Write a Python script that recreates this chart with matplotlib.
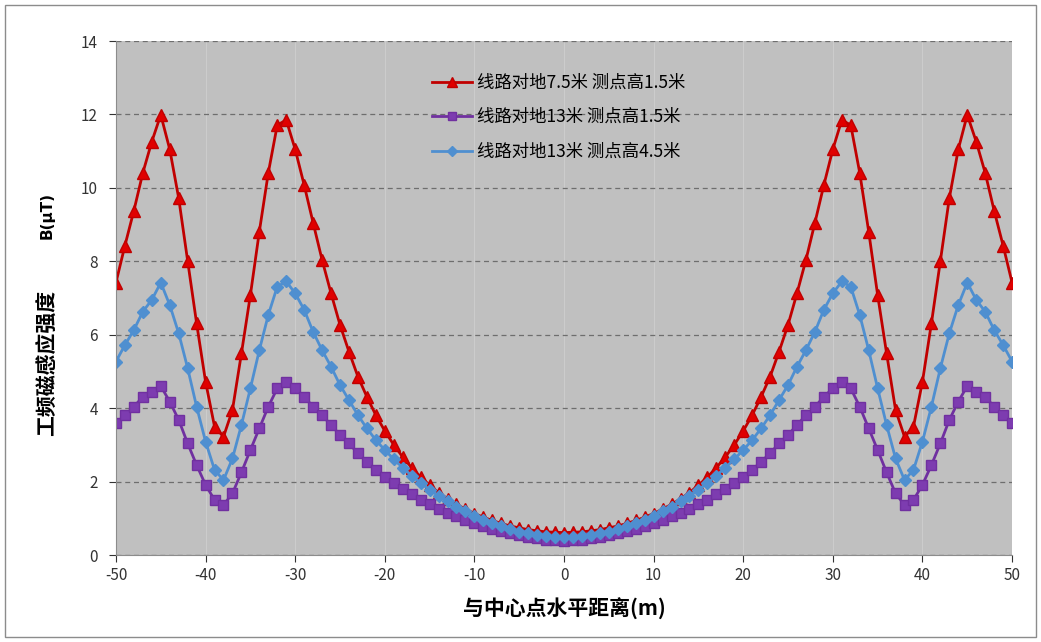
import matplotlib
matplotlib.use("Agg")
import matplotlib.pyplot as plt
from matplotlib.patches import Rectangle

plt.rcParams['font.family'] = ['Noto Sans CJK SC', 'DejaVu Sans']
plt.rcParams['axes.unicode_minus'] = False

# 与中心点水平距离 (m)
dist = list(range(-50, 51))

# 线路对地7.5米 测点高1.5米
b_75_15 = [7.42, 8.43, 9.38, 10.41, 11.26, 11.99, 11.05, 9.72, 8.01, 6.31,
           4.72, 3.50, 3.22, 3.95, 5.49, 7.08, 8.81, 10.41, 11.71, 11.85,
           11.05, 10.08, 9.05, 8.04, 7.13, 6.27, 5.54, 4.86, 4.31, 3.81,
           3.38, 3.00, 2.67, 2.38, 2.12, 1.90, 1.70, 1.53, 1.38, 1.25,
           1.13, 1.03, 0.94, 0.86, 0.79, 0.74, 0.69, 0.66, 0.63, 0.62,
           0.61,
           0.62, 0.63, 0.66, 0.69, 0.74, 0.79, 0.86, 0.94, 1.03, 1.13,
           1.25, 1.38, 1.53, 1.70, 1.90, 2.12, 2.38, 2.67, 3.00, 3.38,
           3.81, 4.31, 4.86, 5.54, 6.27, 7.13, 8.04, 9.05, 10.08, 11.05,
           11.85, 11.71, 10.41, 8.81, 7.08, 5.49, 3.95, 3.22, 3.50, 4.72,
           6.31, 8.01, 9.72, 11.05, 11.99, 11.26, 10.41, 9.38, 8.43, 7.42]

# 线路对地13米 测点高1.5米
b_13_15 = [3.59, 3.81, 4.04, 4.31, 4.45, 4.60, 4.18, 3.68, 3.04, 2.45,
           1.91, 1.50, 1.36, 1.68, 2.25, 2.86, 3.45, 4.04, 4.54, 4.72,
           4.54, 4.31, 4.04, 3.81, 3.54, 3.27, 3.04, 2.77, 2.54, 2.32,
           2.13, 1.96, 1.80, 1.65, 1.51, 1.38, 1.26, 1.15, 1.05, 0.96,
           0.87, 0.79, 0.72, 0.65, 0.59, 0.54, 0.49, 0.45, 0.42, 0.40,
           0.39,
           0.40, 0.42, 0.45, 0.49, 0.54, 0.59, 0.65, 0.72, 0.79, 0.87,
           0.96, 1.05, 1.15, 1.26, 1.38, 1.51, 1.65, 1.80, 1.96, 2.13,
           2.32, 2.54, 2.77, 3.04, 3.27, 3.54, 3.81, 4.04, 4.31, 4.54,
           4.72, 4.54, 4.04, 3.45, 2.86, 2.25, 1.68, 1.36, 1.50, 1.91,
           2.45, 3.04, 3.68, 4.18, 4.60, 4.45, 4.31, 4.04, 3.81, 3.59]

# 线路对地13米 测点高4.5米
b_13_45 = [5.27, 5.72, 6.13, 6.63, 6.95, 7.42, 6.81, 6.04, 5.09, 4.04,
           3.09, 2.32, 2.04, 2.63, 3.54, 4.54, 5.58, 6.54, 7.31, 7.45,
           7.13, 6.68, 6.08, 5.58, 5.13, 4.63, 4.22, 3.81, 3.45, 3.13,
           2.86, 2.61, 2.38, 2.16, 1.96, 1.78, 1.61, 1.46, 1.32, 1.19,
           1.07, 0.96, 0.87, 0.78, 0.71, 0.64, 0.59, 0.54, 0.51, 0.49,
           0.48,
           0.49, 0.51, 0.54, 0.59, 0.64, 0.71, 0.78, 0.87, 0.96, 1.07,
           1.19, 1.32, 1.46, 1.61, 1.78, 1.96, 2.16, 2.38, 2.61, 2.86,
           3.13, 3.45, 3.81, 4.22, 4.63, 5.13, 5.58, 6.08, 6.68, 7.13,
           7.45, 7.31, 6.54, 5.58, 4.54, 3.54, 2.63, 2.04, 2.32, 3.09,
           4.04, 5.09, 6.04, 6.81, 7.42, 6.95, 6.63, 6.13, 5.72, 5.27]

labels = ["线路对地7.5米 测点高1.5米", "线路对地13米 测点高1.5米", "线路对地13米 测点高4.5米"]

fig = plt.figure(figsize=(10.41, 6.42), dpi=100)
ax = fig.add_axes([0.1114, 0.1355, 0.8608, 0.8006])

# 外框
fig.patches.append(Rectangle((0.005, 0.008), 0.99, 0.984, transform=fig.transFigure,
                             fill=False, edgecolor="#8c8c8c", linewidth=1))

ax.set_facecolor("#c0c0c0")
ax.plot(dist, b_75_15, color="#c00000", lw=2, marker="^", ms=8.5,
        mfc="#e00000", mec="#c00000", label=labels[0])
ax.plot(dist, b_13_15, color="#7030a0", lw=2, marker="s", ms=7,
        mfc="#7d3cb0", mec="#7030a0", label=labels[1])
ax.plot(dist, b_13_45, color="#4f8fd0", lw=2, marker="D", ms=6,
        mfc="#4f8fd0", mec="#4f8fd0", label=labels[2])

ax.set_xlim(-50, 50)
ax.set_ylim(0, 14)
ax.set_xticks(range(-50, 51, 10))
ax.set_yticks(range(0, 15, 2))
ax.tick_params(axis="both", labelsize=11, colors="#333333", length=5, direction="out")
ax.tick_params(axis="y", pad=8)

ax.grid(axis="y", color="#6e6e6e", linestyle=(0, (4, 3)), linewidth=0.9)
ax.grid(axis="x", color="#cccccc", linestyle="-", linewidth=0.8)
ax.set_axisbelow(True)

for s in ["top", "right"]:
    ax.spines[s].set_visible(False)
for s in ["left", "bottom"]:
    ax.spines[s].set_color("#8c8c8c")

ax.set_xlabel("与中心点水平距离(m)", fontsize=15, fontweight="bold", labelpad=10)
fig.text(0.045, 0.435, "工频磁感应强度", rotation=90, fontsize=15, fontweight="bold",
         ha="center", va="center")
fig.text(0.045, 0.665, "B(μT)", rotation=90, fontsize=11, fontweight="bold",
         ha="center", va="center", family=["DejaVu Sans"])

ax.legend(loc="upper left", bbox_to_anchor=(0.345, 0.95), frameon=False,
          fontsize=12.5, handlelength=2.3, handletextpad=0.3, labelspacing=0.95,
          borderaxespad=0, markerscale=0.8)

fig.savefig("out.png", dpi=100)
